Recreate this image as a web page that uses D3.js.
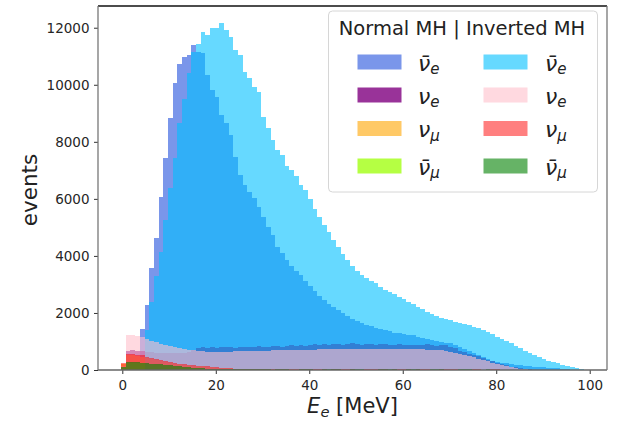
<!DOCTYPE html>
<html>
<head>
<meta charset="utf-8">
<script src="https://cdn.jsdelivr.net/npm/d3@7"></script>
<style>
  body { margin: 0; background: #fff; }
  svg { display: block; font-family: "DejaVu Sans", sans-serif; }
</style>
</head>
<body>
<div id="graphique"></div>
<script>
// Histogrammes : bins de 1 MeV, le premier commence a -0.25 MeV
const binStart = -0.25, binWidth = 1;

// Normal MH
const nuebarNormal = [0,0,0,150,1452,2294,3580,4630,6049,7430,8842,10070,10716,10982,11050,11393,11158,11120,10340,9800,
  9580,8937,8650,8235,7474,6832,6481,6246,6013,5720,5368,5018,4726,4316,4100,3850,3650,3480,3320,3120,
  2950,2780,2600,2450,2320,2200,2100,1990,1880,1780,1720,1660,1590,1530,1480,1440,1400,1360,1310,1280,
  1250,1230,1210,1160,1110,1070,1040,1010,985,955,930,880,800,720,650,590,530,470,400,330,
  290,260,230,210,180,160,140,125,110,100,90,80,70,60,45,30,15,5,0];
const nueNormal = [60,680,690,670,650,630,620,610,600,595,590,595,600,610,640,700,770,790,760,790,
  780,800,790,810,780,800,820,790,810,830,800,820,850,830,810,840,860,830,880,850,
  870,900,880,910,890,920,900,880,910,930,900,890,920,910,890,900,920,890,880,900,
  870,890,880,860,880,900,870,850,880,860,820,760,680,620,570,530,480,420,360,300,
  250,200,160,120,90,60,40,25,15,5];
const numuNormal = [200,520,510,490,460,420,380,345,310,275,245,220,195,180,165,150,138,125,110,98,
  85,72,62,55,48,42,38,35,32,30,28,26,24,22,20,20,18,18,16,16,15,15,14,14,13,12,12,11,10,10,
  9,9,8,8,7,7,6,6,5,5,5,4,4,4,3,3,3,2,2,2,1,1,1,0];
const numubarNormal = [100,260,255,245,235,220,205,190,175,160,148,135,122,110,95,82,70,60,52,45,
  40,36,32,29,26,24,22,20,18,17,16,15,14,13,12,11,10,10,9,9,8,8,7,7,6,6,5,5,5,4,
  4,4,3,3,3,2,2,2,1,1,1,0];

// Inverted MH
const nuebarInverted = [0,0,0,0,0,1400,2400,3300,4150,5253,6365,7418,8650,9500,10400,11158,11420,11838,11744,11977,
  11977,12154,11919,11684,11217,11042,10456,10224,9930,9754,8877,8470,8060,7709,7550,7150,7000,6800,6500,6300,
  6000,5650,5350,5100,4850,4550,4300,4050,3850,3650,3480,3330,3220,3120,3050,2900,2820,2720,2660,2560,
  2480,2380,2300,2200,2150,2050,1960,1900,1830,1800,1760,1700,1660,1620,1580,1520,1460,1400,1340,1260,
  1170,1100,1000,930,840,760,680,600,530,460,400,330,280,230,180,140,100,60,25];
const nueInverted = [150,1210,1220,1200,1150,1080,1020,970,920,870,830,800,770,740,715,690,670,655,645,640,
  635,640,640,645,650,655,660,660,665,670,675,680,685,690,690,695,700,700,705,710,
  710,715,720,720,725,725,730,730,730,735,735,735,740,740,740,740,740,740,735,735,
  735,730,730,725,720,715,710,700,690,670,640,600,560,520,480,440,400,350,300,250,
  210,170,130,100,70,45,25,10,5];
const numuInverted = [230,570,560,540,510,460,420,380,340,300,270,240,215,200,185,170,155,140,125,110,
  95,80,70,60,52,45,40,38,35,32,30,30,28,25,25,22,20,22,18,20,25,30,22,18,15,20,28,32,25,18,
  15,12,20,30,35,28,20,15,22,30,25,18,12,20,28,22,15,10,18,25,30,20,12,8,15,22,18,10,12,18,
  25,15,8,5,10,15,12,5,3,6,8,4,2,0];
const numubarInverted = [110,290,280,270,255,240,225,210,195,180,165,150,135,120,100,85,72,60,52,46,
  40,36,32,29,27,25,24,22,20,22,25,18,15,20,24,18,14,16,22,26,20,15,12,18,25,30,22,15,12,20,
  28,24,16,10,15,22,30,25,18,12,16,24,28,20,14,10,18,26,22,15,10,14,20,25,18,12,8,14,20,16,
  10,6,10,14,8,5,3,5,2,0];

const xTicks = [0, 20, 40, 60, 80, 100];
const yTicks = [0, 2000, 4000, 6000, 8000, 10000, 12000];

// Ordre de trace et styles (comme matplotlib, alpha par serie)
const series = [
  {data: nuebarNormal,    color: "royalblue",   alpha: 0.7, col: 0, row: 0, bar: true,  sub: "e"},
  {data: nueNormal,       color: "purple",      alpha: 0.8, col: 0, row: 1, bar: false, sub: "e"},
  {data: numuNormal,      color: "orange",      alpha: 0.6, col: 0, row: 2, bar: false, sub: "\u03BC"},
  {data: numubarNormal,   color: "greenyellow", alpha: 0.9, col: 0, row: 3, bar: true,  sub: "\u03BC"},
  {data: nuebarInverted,  color: "deepskyblue", alpha: 0.6, col: 1, row: 0, bar: true,  sub: "e"},
  {data: nueInverted,     color: "pink",        alpha: 0.6, col: 1, row: 1, bar: false, sub: "e"},
  {data: numuInverted,    color: "red",         alpha: 0.5, col: 1, row: 2, bar: false, sub: "\u03BC"},
  {data: numubarInverted, color: "green",       alpha: 0.6, col: 1, row: 3, bar: true,  sub: "\u03BC"}
];

// Dimensions et marges
const W = 618, H = 424;
const margin = {top: 6, right: 11, bottom: 54, left: 98},
    width = W - margin.left - margin.right,
    height = H - margin.top - margin.bottom;

const root = d3.select("#graphique")
    .append("svg")
    .attr("width", W)
    .attr("height", H);

const svg = root.append("g")
    .attr("transform", `translate(${margin.left},${margin.top})`);

// Echelles avec marge de 5 % comme matplotlib
const nBins = d3.max(series, s => s.data.length);
const lo = binStart, hi = binStart + nBins * binWidth;
const pad = 0.05 * (hi - lo);
const x = d3.scaleLinear().domain([lo - pad, hi + pad]).range([0, width]);
const ymax = d3.max(series, s => d3.max(s.data));
const y = d3.scaleLinear().domain([0, ymax * 1.05]).range([height, 0]);

// Histogrammes (stepfilled)
const area = d3.area()
    .curve(d3.curveStepAfter)
    .x(d => x(d.e))
    .y0(y(0))
    .y1(d => y(d.v));

series.forEach(s => {
    const pts = s.data.map((v, i) => ({e: binStart + i * binWidth, v: v}));
    pts.push({e: binStart + s.data.length * binWidth, v: s.data[s.data.length - 1]});
    svg.append("path")
        .datum(pts)
        .attr("fill", s.color)
        .attr("fill-opacity", s.alpha)
        .attr("shape-rendering", "crispEdges")
        .attr("d", area);
});

// Axes
const gx = svg.append("g")
    .attr("transform", `translate(0,${height})`)
    .call(d3.axisBottom(x).tickValues(xTicks).tickSize(4).tickPadding(6));
const gy = svg.append("g")
    .call(d3.axisLeft(y).tickValues(yTicks).tickFormat(d3.format("d")).tickSize(4).tickPadding(4.5));
[gx, gy].forEach(g => {
    g.select(".domain").remove();
    g.attr("font-family", "DejaVu Sans").attr("font-size", 13.5).attr("color", "#333");
    g.selectAll("text").attr("fill", "#262626");
});

// Cadre
svg.append("line").attr("x1", 0).attr("x2", width).attr("y1", 0).attr("y2", 0)
    .attr("stroke", "#111").attr("stroke-width", 1.3);
svg.append("line").attr("x1", 0).attr("x2", width).attr("y1", height).attr("y2", height)
    .attr("stroke", "#666").attr("stroke-width", 1.3);
svg.append("line").attr("x1", 0).attr("x2", 0).attr("y1", 0).attr("y2", height)
    .attr("stroke", "#777").attr("stroke-width", 1.3);
svg.append("line").attr("x1", width).attr("x2", width).attr("y1", 0).attr("y2", height)
    .attr("stroke", "#777").attr("stroke-width", 1.3);

// Titres des axes
const xl = root.append("text")
    .attr("x", margin.left + width / 2)
    .attr("y", 413)
    .attr("text-anchor", "middle")
    .attr("font-size", 21)
    .attr("fill", "#222");
xl.append("tspan").attr("font-style", "italic").text("E");
xl.append("tspan").attr("font-style", "italic").attr("font-size", 14.7).attr("dy", 4).text("e");
xl.append("tspan").attr("dy", -4).text(" [MeV]");

root.append("text")
    .attr("transform", `translate(37,${margin.top + height / 2 + 2}) rotate(-90)`)
    .attr("text-anchor", "middle")
    .attr("font-size", 21.5)
    .attr("fill", "#222")
    .text("events");

// Legende
const leg = root.append("g");
leg.append("rect")
    .attr("x", 328.5).attr("y", 11)
    .attr("width", 269).attr("height", 181)
    .attr("rx", 4)
    .attr("fill", "#fff").attr("fill-opacity", 0.8)
    .attr("stroke", "#d6d6d6");
leg.append("text")
    .attr("x", 462).attr("y", 35)
    .attr("text-anchor", "middle")
    .attr("font-size", 19.5)
    .attr("fill", "#222")
    .text("Normal MH | Inverted MH");

const rowY = [62, 95, 128.5, 166];
const patchX = [357.5, 483.5], textX = [418, 545];
series.forEach(s => {
    const cy = rowY[s.row];
    leg.append("rect")
        .attr("x", patchX[s.col]).attr("y", cy - 7.5)
        .attr("width", 44).attr("height", 15)
        .attr("fill", s.color).attr("fill-opacity", s.alpha);
    const t = leg.append("text")
        .attr("x", textX[s.col]).attr("y", cy + 8.5)
        .attr("font-size", 22)
        .attr("font-style", "italic")
        .attr("fill", "#222");
    t.append("tspan").text(s.bar ? "\u03BD\u0304" : "\u03BD");
    t.append("tspan").attr("font-size", 15).attr("dy", 3.5).text(s.sub);
});
</script>
</body>
</html>
